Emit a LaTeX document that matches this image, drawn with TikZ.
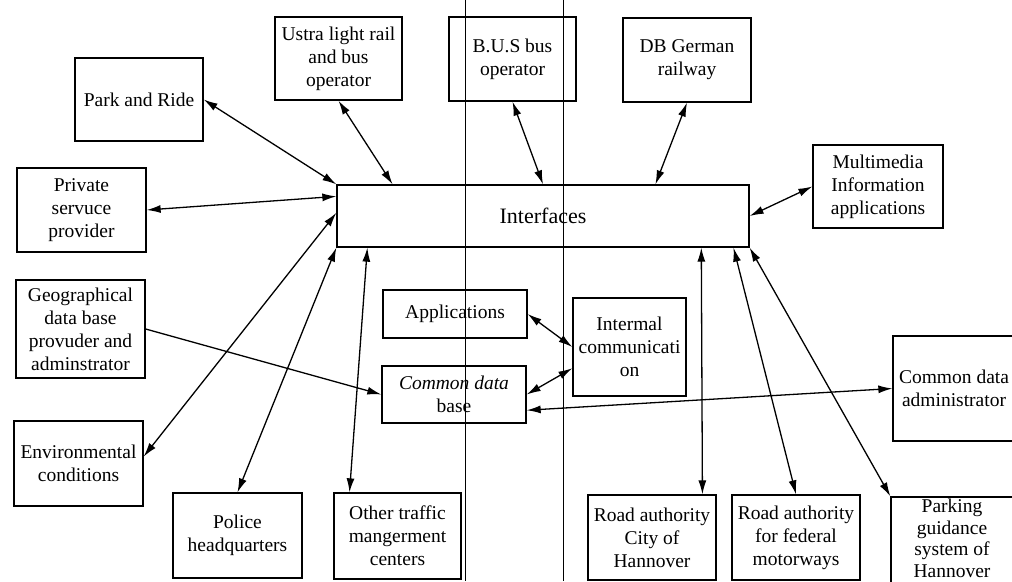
\documentclass[tikz,border=0pt]{standalone}
\usepackage{fontspec}
\setmainfont{Liberation Serif}
\usetikzlibrary{arrows.meta,calc}
\newcommand\boxfont{\fontsize{19.5}{23}\selectfont}
\newcommand\tightfont{\fontsize{19.5}{21.5}\selectfont}
\newcommand\titlefont{\fontsize{22}{26}\selectfont}
\begin{document}
\begin{tikzpicture}[x=1pt,y=-1pt,
  box/.style={draw, line width=1.3pt, inner sep=0pt, align=center, font=\boxfont},
  tip/.tip={Latex[length=14pt,width=8pt]},
  link/.style={line width=1.3pt, tip-tip},
  feed/.style={line width=1.3pt, -tip},
  rule/.style={line width=1pt}]
\path[use as bounding box] (0,0) rectangle (1012,581);
\clip (0,0) rectangle (1012,581);

% the two vertical separators running through the whole sheet
\coordinate (v1t) at (465,0);  \coordinate (v1b) at (465,581);
\coordinate (v2t) at (563,0);  \coordinate (v2b) at (563,581);
\draw[rule] (v1t) -- (v1b);
\draw[rule] (v2t) -- (v2b);

% central interface block
\node[box, font=\titlefont, minimum width=412pt, minimum height=62pt] (iface) at (543,216) {Interfaces};

% upper row
\node[box, minimum width=128pt, minimum height=83pt] (park)  at (139,99.5) {Park and Ride};
\node[box, minimum width=127pt, minimum height=83pt] (ustra) at (338.5,58.5) {Ustra light rail\\and bus\\operator};
\node[box, minimum width=127pt, minimum height=84pt] (bus)   at (512.5,59) {B.U.S bus\\operator};
\node[box, minimum width=128pt, minimum height=84pt] (db)    at (687,60) {DB German\\railway};
\node[box, minimum width=130pt, minimum height=83pt] (multi) at (878,186.5) {Multimedia\\Information\\applications};

% left column
\node[box, minimum width=129pt, minimum height=84pt] (priv) at (81.5,210) {Private\\servuce\\provider};
\node[box, minimum width=129pt, minimum height=98pt] (geo)  at (80.5,329) {Geographical\\data base\\provuder and\\adminstrator};
\node[box, minimum width=129pt, minimum height=85pt] (env)  at (78.5,463.5) {Environmental\\conditions};

% inner system
\node[box, minimum width=144pt, minimum height=48pt] (apps) at (455,314) {Applications};
\node[box, minimum width=144pt, minimum height=57pt] (cdb)  at (454,394.5) {\textit{Common data}\\base};
\node[box, minimum width=113pt, minimum height=98pt] (intc) at (629.5,347) {Intermal\\communicati\\on};
\node[box, minimum width=122pt, minimum height=105pt] (cda) at (954,388.5) {Common data\\administrator};

% bottom row
\node[box, minimum width=129pt, minimum height=85pt] (police) at (237.5,535.5) {Police\\headquarters};
\node[box, minimum width=127pt, minimum height=86pt] (other)  at (397.5,536) {Other traffic\\mangerment\\centers};
\node[box, minimum width=128pt, minimum height=85pt] (rcity)  at (652,537.5) {Road authority\\City of\\Hannover};
\node[box, minimum width=128pt, minimum height=85pt] (rfed)   at (796,537.5) {Road authority\\for federal\\motorways};
\node[box, minimum width=122pt, minimum height=96pt] (park2)  at (952,545) {};
\node[inner sep=0pt, align=center, font=\tightfont] (park2t) at (952,538.5) {Parking\\guidance\\system of\\Hannover};

% attachment points along box edges
\coordinate (ifN1) at ($(iface.north west)!0.136!(iface.north east)$);
\coordinate (ifN3) at ($(iface.north west)!0.772!(iface.north east)$);
\coordinate (ifW1) at ($(iface.north west)!0.19!(iface.south west)$);
\coordinate (ifW2) at ($(iface.north west)!0.45!(iface.south west)$);
\coordinate (ifS1) at ($(iface.south west)!0.075!(iface.south east)$);
\coordinate (ifS2) at ($(iface.south west)!0.883!(iface.south east)$);
\coordinate (ifS3) at ($(iface.south west)!0.961!(iface.south east)$);
\coordinate (envE) at ($(env.north east)!0.42!(env.south east)$);
\coordinate (otherN) at ($(other.north west)!0.126!(other.north east)$);
\coordinate (rcityN) at ($(rcity.north west)!0.89!(rcity.north east)$);
\coordinate (intW2) at ($(intc.north west)!0.714!(intc.south west)$);
\coordinate (cdbE2) at ($(cdb.north east)!0.77!(cdb.south east)$);

% connections to the interface block
\draw[link] (park.east) -- (iface.north west);
\draw[link] (priv.east) -- (ifW1);
\draw[link] (envE) -- (ifW2);
\draw[link] (police.north) -- (iface.south west);
\draw[link] (otherN) -- (ifS1);
\draw[link] (ustra.south) -- (ifN1);
\draw[link] (bus.south) -- (iface.north);
\draw[link] (db.south) -- (ifN3);
\draw[link] (multi.west) -- (iface.east);
\draw[link] (rcityN) -- (ifS2);
\draw[link] (rfed.north) -- (ifS3);
\draw[link] (park2.north west) -- (iface.south east);

% internal links
\draw[feed] (geo.east) -- (cdb.west);
\draw[link] (apps.east) -- (intc.west);
\draw[link] (cdb.east) -- (intW2);
\draw[link] (cdbE2) -- (cda.west);
\end{tikzpicture}
\end{document}
